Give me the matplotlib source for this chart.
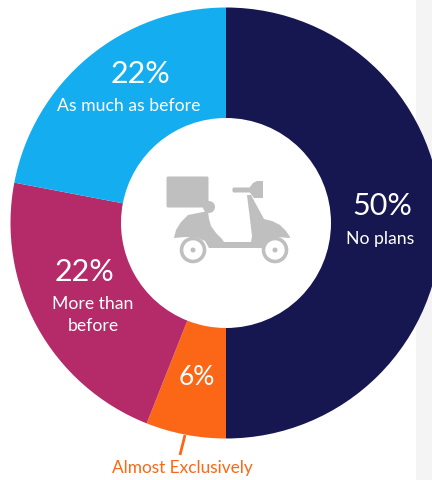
import matplotlib
matplotlib.use("Agg")
import matplotlib.pyplot as plt
from matplotlib.patches import Circle, FancyBboxPatch, PathPatch, Rectangle
from matplotlib.path import Path

plt.rcParams['font.family'] = ['Lato', 'DejaVu Sans']

labels = ["No plans", "Almost Exclusively", "More than\nbefore", "As much as before"]
values = [50, 6, 22, 22]
colors = ["#161650", "#fb6716", "#b52a68", "#14aef0"]
icon_grey = "#bfbfbf"

W, H = 432, 481
fig = plt.figure(figsize=(W / 100, H / 100), dpi=100)
ax = fig.add_axes([0, 0, 1, 1])
ax.set_xlim(0, W)
ax.set_ylim(0, H)
ax.axis("off")

def fy(y):
    # y measured from the top edge
    return H - y

# side panel
ax.add_patch(Rectangle((416, 0), 16, H, color="#f4f4f4", lw=0))

# donut
ax.pie(values, colors=colors, startangle=90, counterclock=False,
       center=(226, fy(224)), radius=215.5, frame=True,
       wedgeprops=dict(width=110.5, linewidth=0))
ax.set_xlim(0, W)
ax.set_ylim(0, H)
ax.set_aspect("auto")
ax.axis("off")

# value labels
big = 22
small = 12.7
ax.text(382, fy(206), f"{values[0]}%", color="white", fontsize=big, ha="center", va="center")
ax.text(380, fy(239), labels[0], color="white", fontsize=small, ha="center", va="center")
ax.text(197, fy(378), f"{values[1]}%", color="white", fontsize=19, ha="center", va="center")
ax.text(84, fy(272), f"{values[2]}%", color="white", fontsize=big, ha="center", va="center")
ax.text(93, fy(315), labels[2], color="white", fontsize=small, ha="center", va="center",
        linespacing=1.4)
ax.text(141, fy(74), f"{values[3]}%", color="white", fontsize=big, ha="center", va="center")
ax.text(129, fy(106), labels[3], color="white", fontsize=small, ha="center", va="center")

# leader for the smallest slice
ax.plot([185, 180], [fy(436), fy(456)], color=colors[1], lw=2, solid_capstyle="butt")
ax.text(182, fy(468), labels[1], color=colors[1], fontsize=12.4, ha="center", va="center")

# scooter icon
def poly(points, **kw):
    pts = [(x, fy(y)) for x, y in points]
    codes = [Path.MOVETO] + [Path.LINETO] * (len(pts) - 1)
    ax.add_patch(PathPatch(Path(pts, codes), facecolor=icon_grey, edgecolor="none", **kw))

ax.add_patch(FancyBboxPatch((168, fy(207)), 39, 28, boxstyle="round,pad=1.5",
                            facecolor=icon_grey, edgecolor="none"))
ax.add_patch(Circle((209, fy(208)), 6, facecolor=icon_grey, edgecolor="none"))
# body: seat base, floor and front shield
poly([(174, 239), (176, 231), (181, 223), (188, 216), (208, 212), (209, 220),
      (211, 227), (216, 234), (222, 240), (224, 243), (251, 243), (252, 237),
      (250, 220), (247, 196), (251, 196), (258, 209), (264, 220), (272, 222),
      (280, 226), (286, 232), (290, 238), (290, 239), (276, 238), (268, 240),
      (264, 249), (209, 249), (205, 242), (196, 238), (185, 238), (174, 239)])
# handlebar and headlight
ax.add_patch(FancyBboxPatch((234, fy(192)), 18, 2, boxstyle="round,pad=1.5",
                            facecolor=icon_grey, edgecolor="none"))
poly([(250, 188), (253, 184), (257, 182), (263, 182), (263, 199), (254, 199), (250, 194)])
# wheels
for cx in (193, 275):
    ax.add_patch(Circle((cx, fy(251)), 11.5, facecolor="white", edgecolor=icon_grey, lw=2.6))
    ax.add_patch(Circle((cx, fy(251)), 2.5, facecolor=icon_grey, edgecolor="none"))

fig.savefig("out.png", dpi=100)
